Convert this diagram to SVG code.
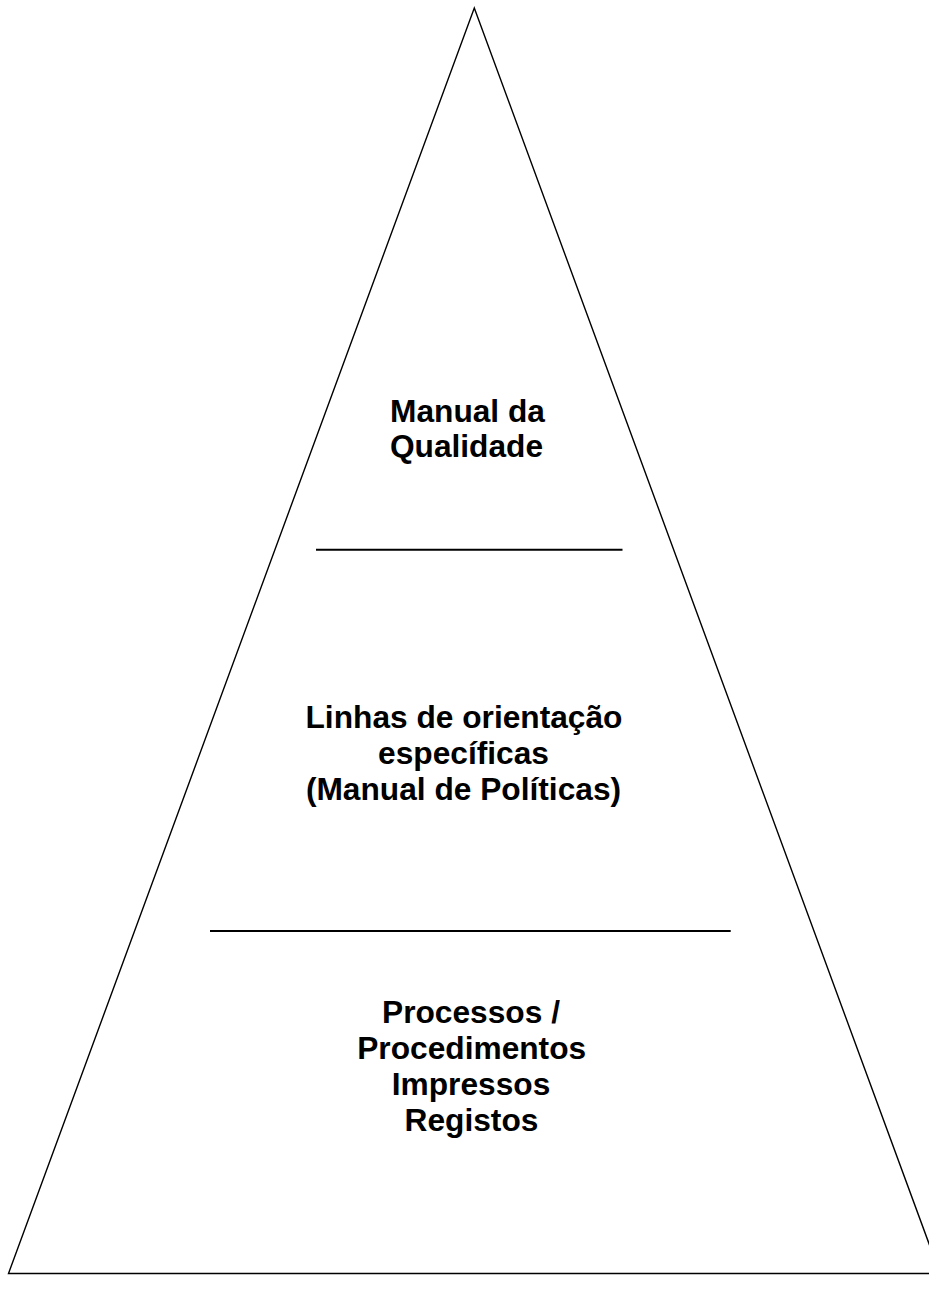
<svg xmlns="http://www.w3.org/2000/svg" width="929" height="1295" viewBox="0 0 929 1295">
<style>
.shape{fill:none;stroke:#000;stroke-width:1.4}
.div{stroke:#000;stroke-width:2}
.lbl{font-family:"Liberation Sans",Arial,sans-serif;font-weight:bold;font-size:31.7px;fill:#000;text-anchor:middle}
</style>
<rect width="929" height="1295" fill="#fff"/>
<g id="pyramid">
<polygon class="shape" points="474.3,8 940,1273.5 8.5,1273.5"/>
</g>
<g id="connectors">
<line class="div" x1="316" y1="549.7" x2="622.5" y2="549.7"/>
<line class="div" x1="210" y1="931" x2="730.7" y2="931"/>
</g>
<g id="level1">
<text class="lbl" x="467.5" y="421.5">Manual da</text>
<text class="lbl" x="466.5" y="457">Qualidade</text>
</g>
<g id="level2">
<text class="lbl" x="464" y="728">Linhas de orientação</text>
<text class="lbl" x="463.5" y="763.5">específicas</text>
<text class="lbl" x="463.5" y="800">(Manual de Políticas)</text>
</g>
<g id="level3">
<text class="lbl" x="471" y="1022.5">Processos /</text>
<text class="lbl" x="471.7" y="1059">Procedimentos</text>
<text class="lbl" x="471" y="1095">Impressos</text>
<text class="lbl" x="471.5" y="1130.7">Registos</text>
</g>
</svg>
